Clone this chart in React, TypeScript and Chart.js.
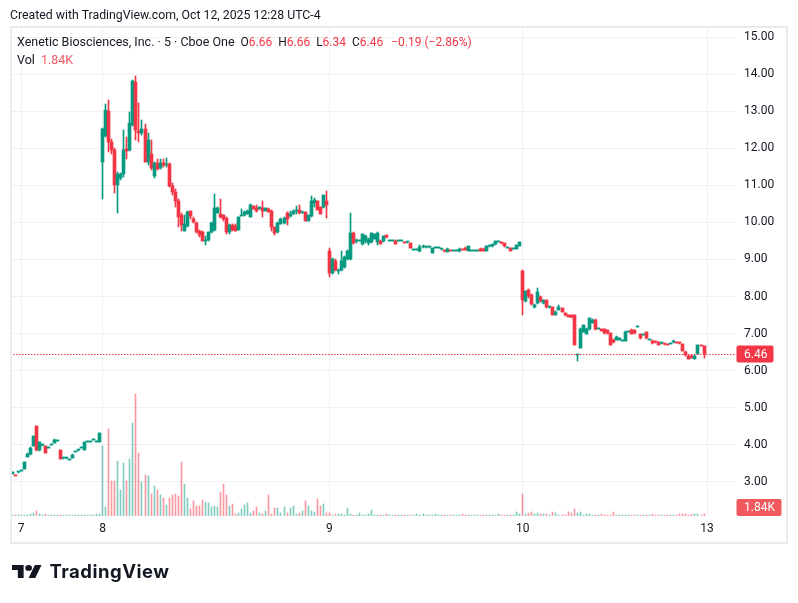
import React, { useEffect, useRef } from "react";
import { Chart, registerables } from "chart.js";

Chart.register(...registerables);

// ---------------- data ----------------
// day labels on the time axis (first bar of each session; "13" is the next, empty session)
const dayTickLabels = ["7", "8", "9", "10", "13"];

// 5-minute candles: [open, high, low, close]
const oct6Candles = [
  [3.22, 3.28, 3.21, 3.27],
  [3.17, 3.17, 3.15, 3.16],
  [3.26, 3.27, 3.25, 3.27],
];
const oct7Candles = [
  [3.3, 3.31, 3.29, 3.3], [3.36, 3.55, 3.35, 3.54], [3.68, 3.77, 3.67, 3.76], [3.74, 3.93, 3.73, 3.92],
  [3.97, 4.25, 3.96, 4.24], [4.51, 4.52, 3.84, 3.85], [3.85, 4.09, 3.84, 4.08], [3.99, 4.0, 3.98, 3.99],
  [3.97, 3.98, 3.78, 3.79], [3.92, 3.93, 3.91, 3.92], [4.0, 4.01, 3.99, 4.0], [4.06, 4.15, 4.05, 4.14],
  [4.11, 4.12, 4.1, 4.11], [3.85, 3.86, 3.61, 3.63], [3.64, 3.65, 3.63, 3.64], [3.64, 3.65, 3.63, 3.64],
  [3.59, 3.6, 3.58, 3.59], [3.65, 3.74, 3.64, 3.73], [3.81, 3.82, 3.8, 3.81], [3.85, 3.86, 3.84, 3.85],
  [3.92, 3.93, 3.91, 3.92], [3.87, 4.09, 3.86, 4.08], [4.08, 4.09, 4.07, 4.08], [4.08, 4.09, 4.07, 4.08],
  [4.14, 4.15, 4.13, 4.14], [4.08, 4.09, 4.07, 4.08], [4.08, 4.32, 4.07, 4.31],
];
const oct8Candles = [
  [11.63, 12.55, 10.64, 12.53], [12.32, 13.18, 12.3, 13.03], [13.0, 13.3, 11.9, 12.17], [12.17, 12.25, 11.85, 11.96],
  [11.96, 12.0, 10.8, 11.0], [11.0, 11.35, 10.25, 11.3], [11.21, 11.33, 11.15, 11.3], [11.31, 12.49, 11.22, 11.94],
  [11.99, 12.3, 11.7, 11.93], [11.95, 12.98, 11.93, 12.67], [12.62, 13.85, 12.6, 13.82], [13.8, 13.95, 12.22, 12.49],
  [12.47, 13.21, 12.17, 12.4], [12.4, 12.75, 12.35, 12.51], [12.53, 12.66, 11.62, 11.63], [11.63, 12.4, 11.54, 12.22],
  [11.84, 12.22, 11.41, 11.48], [11.24, 11.62, 11.2, 11.59], [11.59, 11.7, 11.4, 11.45], [11.48, 11.7, 11.45, 11.59],
  [11.59, 11.72, 11.5, 11.54], [11.54, 11.75, 11.5, 11.58], [11.58, 11.6, 10.95, 10.98], [10.98, 11.05, 10.75, 10.82],
  [10.82, 10.9, 10.41, 10.59], [10.59, 10.64, 9.87, 10.14], [10.19, 10.25, 9.78, 9.92], [9.78, 10.2, 9.76, 9.95],
  [9.9, 10.3, 9.88, 10.28], [10.3, 10.32, 10.1, 10.17], [10.1, 10.15, 9.98, 10.0], [9.98, 10.0, 9.72, 9.74],
  [9.78, 9.8, 9.6, 9.65], [9.74, 9.76, 9.5, 9.51], [9.5, 9.64, 9.38, 9.53], [9.53, 9.75, 9.5, 9.74],
  [9.74, 10.0, 9.72, 9.98], [9.8, 10.77, 9.78, 10.39], [10.26, 10.42, 10.25, 10.39], [10.23, 10.62, 10.12, 10.14],
  [10.19, 10.2, 10.05, 10.1], [10.13, 10.15, 9.68, 9.74], [9.74, 9.95, 9.7, 9.92], [9.92, 9.95, 9.78, 9.8],
  [9.9, 9.96, 9.76, 9.78], [9.8, 10.15, 9.79, 10.14], [10.17, 10.37, 10.16, 10.19], [10.19, 10.3, 10.18, 10.28],
  [10.24, 10.34, 10.22, 10.32], [10.14, 10.5, 10.14, 10.46], [10.43, 10.45, 10.36, 10.37], [10.4, 10.46, 10.28, 10.32],
  [10.37, 10.42, 10.36, 10.41], [10.39, 10.58, 10.14, 10.3], [10.32, 10.4, 10.31, 10.39], [10.37, 10.38, 10.27, 10.28],
  [10.32, 10.33, 9.78, 9.87], [9.87, 9.88, 9.65, 9.71], [9.74, 10.0, 9.72, 9.98], [9.96, 10.12, 9.95, 10.1],
  [9.98, 10.15, 9.97, 10.13], [10.26, 10.28, 9.92, 10.1], [10.16, 10.3, 10.15, 10.23], [10.23, 10.33, 10.22, 10.32],
  [10.31, 10.43, 10.23, 10.34], [10.34, 10.46, 10.23, 10.26], [10.26, 10.3, 10.25, 10.28], [10.28, 10.29, 10.04, 10.05],
  [10.05, 10.2, 10.04, 10.19], [10.16, 10.71, 10.15, 10.57], [10.52, 10.67, 10.41, 10.61], [10.57, 10.58, 10.33, 10.34],
  [10.41, 10.42, 10.22, 10.23], [10.41, 10.74, 10.4, 10.73], [10.59, 10.84, 10.13, 10.46],
];
const oct9Candles = [
  [9.24, 9.3, 8.52, 8.63], [8.63, 9.05, 8.6, 9.0], [8.97, 9.0, 8.7, 8.72], [8.68, 8.74, 8.62, 8.72],
  [8.72, 9.23, 8.7, 8.97], [8.81, 9.1, 8.78, 9.06], [9.0, 9.25, 8.98, 9.22], [9.0, 10.25, 8.98, 9.72],
  [9.72, 9.75, 9.42, 9.45], [9.49, 9.55, 9.44, 9.5], [9.5, 9.52, 9.49, 9.51], [9.42, 9.7, 9.4, 9.69],
  [9.49, 9.65, 9.45, 9.62], [9.44, 9.58, 9.4, 9.56], [9.47, 9.72, 9.45, 9.71], [9.55, 9.7, 9.54, 9.69],
  [9.47, 9.75, 9.4, 9.72], [9.51, 9.53, 9.41, 9.42], [9.49, 9.63, 9.48, 9.62], [9.65, 9.66, 9.59, 9.6],
  [9.51, 9.52, 9.5, 9.51], [9.51, 9.52, 9.5, 9.51], [9.51, 9.52, 9.41, 9.42], [9.51, 9.52, 9.5, 9.51],
  [9.51, 9.52, 9.5, 9.51], [9.47, 9.48, 9.44, 9.45], [9.46, 9.47, 9.45, 9.46], [9.44, 9.45, 9.3, 9.31],
  [9.26, 9.27, 9.25, 9.26], [9.26, 9.27, 9.25, 9.26], [9.24, 9.38, 9.2, 9.33], [9.33, 9.38, 9.32, 9.37],
  [9.33, 9.34, 9.32, 9.33], [9.33, 9.34, 9.32, 9.33], [9.18, 9.32, 9.17, 9.31], [9.31, 9.32, 9.3, 9.31],
  [9.32, 9.33, 9.31, 9.32], [9.27, 9.28, 9.26, 9.27], [9.24, 9.25, 9.21, 9.22], [9.2, 9.3, 9.19, 9.27],
  [9.23, 9.24, 9.22, 9.225], [9.225, 9.23, 9.22, 9.225], [9.225, 9.23, 9.22, 9.225], [9.22, 9.3, 9.21, 9.29],
  [9.27, 9.28, 9.25, 9.26], [9.32, 9.33, 9.25, 9.26], [9.24, 9.36, 9.23, 9.35], [9.24, 9.25, 9.23, 9.24],
  [9.24, 9.25, 9.23, 9.24], [9.24, 9.25, 9.23, 9.24], [9.29, 9.3, 9.22, 9.225], [9.29, 9.3, 9.22, 9.225],
  [9.225, 9.36, 9.22, 9.35], [9.35, 9.36, 9.34, 9.35], [9.35, 9.43, 9.34, 9.42], [9.41, 9.5, 9.4, 9.49],
  [9.48, 9.49, 9.47, 9.48], [9.46, 9.47, 9.43, 9.44], [9.44, 9.45, 9.34, 9.35], [9.31, 9.32, 9.3, 9.31],
  [9.31, 9.32, 9.23, 9.24], [9.29, 9.3, 9.28, 9.29], [9.29, 9.39, 9.28, 9.38], [9.37, 9.47, 9.36, 9.46],
];
const oct10Candles = [
  [8.7, 8.72, 7.51, 7.91], [7.87, 8.15, 7.85, 8.14], [8.19, 8.2, 7.95, 8.01], [8.05, 8.06, 7.78, 7.8],
  [7.71, 7.79, 7.7, 7.78], [7.82, 8.23, 7.8, 8.12], [8.0, 8.02, 7.86, 7.87], [7.82, 7.92, 7.81, 7.91],
  [7.91, 7.92, 7.7, 7.71], [7.71, 7.72, 7.7, 7.71], [7.71, 7.72, 7.49, 7.5], [7.5, 7.6, 7.49, 7.59],
  [7.65, 7.76, 7.64, 7.73], [7.69, 7.7, 7.57, 7.58], [7.55, 7.56, 7.48, 7.49], [7.5, 7.51, 7.45, 7.46],
  [7.49, 7.5, 7.43, 7.44], [7.49, 7.5, 6.69, 6.7], [6.43, 6.45, 6.27, 6.44], [6.61, 7.14, 6.6, 7.13],
  [7.05, 7.23, 7.04, 7.22], [7.0, 7.16, 6.98, 7.12], [7.12, 7.42, 7.11, 7.41], [7.29, 7.39, 7.28, 7.38],
  [7.38, 7.39, 7.11, 7.12], [7.13, 7.14, 7.12, 7.13], [7.12, 7.13, 7.07, 7.08], [7.12, 7.13, 7.0, 7.01],
  [7.1, 7.11, 7.0, 7.01], [7.01, 7.02, 6.68, 6.69], [6.84, 6.85, 6.76, 6.77], [6.83, 6.93, 6.82, 6.9],
  [6.84, 6.88, 6.83, 6.87], [6.81, 6.82, 6.8, 6.81], [6.81, 7.06, 6.8, 7.05], [7.05, 7.06, 7.04, 7.05],
  [7.11, 7.12, 6.98, 6.99], [7.1, 7.11, 7.0, 7.01], [7.19, 7.2, 7.18, 7.19], [6.99, 7.0, 6.86, 6.87],
  [6.96, 6.97, 6.95, 6.96], [7.04, 7.05, 6.86, 6.87], [6.84, 6.85, 6.83, 6.84], [6.81, 6.82, 6.73, 6.74],
  [6.78, 6.79, 6.76, 6.77], [6.77, 6.78, 6.68, 6.69], [6.74, 6.75, 6.73, 6.74], [6.72, 6.73, 6.7, 6.71],
  [6.7, 6.71, 6.68, 6.69], [6.72, 6.73, 6.71, 6.72], [6.77, 6.83, 6.76, 6.81], [6.76, 6.77, 6.74, 6.75],
  [6.76, 6.77, 6.73, 6.74], [6.72, 6.73, 6.53, 6.54], [6.51, 6.52, 6.41, 6.42], [6.41, 6.42, 6.31, 6.32],
  [6.41, 6.42, 6.33, 6.34], [6.32, 6.42, 6.31, 6.41], [6.45, 6.7, 6.44, 6.69], [6.68, 6.68, 6.66, 6.67],
  [6.66, 6.66, 6.34, 6.46],
];

// volume per bar, in thousands of shares
const oct6Volumes = [0.7, 0.7, 0.7];
const oct7Volumes = [
  0.7, 0.7, 0.7, 2, 3.3, 4.7, 2, 1, 1.7, 0.7, 0.7, 0.7, 0.7, 0.7, 0.7, 0.7, 0.7, 0.7, 0.7, 0.7, 0.7, 0.7, 0.7,
  0.7, 0.7, 2, 2,
];
const oct8Volumes = [
  70, 9, 87, 35, 35, 55, 26, 53, 35, 57, 93, 122, 63, 34, 41, 40, 22, 30, 26, 21, 18, 11, 18, 21, 22, 20, 54,
  32, 18, 7, 15, 10, 10, 16, 14, 13, 9, 10, 9, 24, 32, 21, 10, 12, 2, 3, 7, 11, 13, 3, 5, 9, 3, 2, 5, 21, 2, 8,
  8, 3, 9, 3, 8, 10, 2, 3, 5, 15, 10, 5, 4, 17, 10, 12, 3,
];
const oct9Volumes = [
  3, 1, 2, 2, 2, 1, 8, 2, 1, 1, 3, 1, 1, 2, 6, 1, 1, 1, 1, 2, 1, 1, 1, 1, 1, 1, 1, 1, 1, 2, 1, 2, 1, 1, 1, 2, 1,
  1, 1, 1, 1, 1, 1, 1, 2, 1, 1, 1, 1, 1, 1, 1, 1, 1, 1, 1, 2, 1, 1, 1, 1, 1, 4, 2,
];
const oct10Volumes = [
  21.7, 2, 3, 4, 2, 3, 2, 2, 2, 1, 4, 3, 1, 1, 1, 4, 3, 7, 3, 4, 1, 2, 2, 1, 1, 1, 2, 1, 1, 1, 4, 1, 1, 1, 1, 1,
  1, 1, 1, 1, 1, 1, 1, 2, 1, 1, 1, 1, 1, 1, 1, 1, 2, 2, 2, 1, 2, 2, 2, 1, 1.84,
];

const priceTicks = [3, 4, 5, 6, 7, 8, 9, 10, 11, 12, 13, 14, 15];
const lastPrice = 6.46;
const lastVolume = 1.84;

// ---------------- styling ----------------
const UP = "#089981";
const DOWN = "#f23645";
const UP_VOL = "rgba(8,153,129,0.5)";
const DOWN_VOL = "rgba(242,54,69,0.5)";
const GRID = "#eff1f4";
const TEXT = "#131722";
const FONT = "Roboto, 'Noto Sans', Arial, sans-serif";

const snapPlugin = {
  id: "snapBars",
  beforeDatasetsDraw(chart: any) {
    chart.data.datasets.forEach((_: any, di: number) => {
      const meta = chart.getDatasetMeta(di);
      meta.data.forEach((el: any) => {
        const w = Math.round(el.width);
        el.x = w % 2 === 1 ? Math.floor(el.x) + 0.5 : Math.round(el.x);
        const top = Math.round(Math.min(el.y, el.base));
        let bot = Math.round(Math.max(el.y, el.base));
        if (bot - top < 1) bot = top + 1;
        el.y = top;
        el.base = bot;
      });
    });
  },
};

const overlayPlugin = {
  id: "tvOverlay",
  afterDatasetsDraw(chart: any) {
    const { ctx, chartArea, scales } = chart;
    const y = Math.round(scales.y.getPixelForValue(lastPrice)) + 0.5;
    ctx.save();
    ctx.strokeStyle = DOWN;
    ctx.lineWidth = 1;
    ctx.setLineDash([1.5, 1.5]);
    ctx.beginPath();
    ctx.moveTo(10, y);
    ctx.lineTo(chartArea.right, y);
    ctx.stroke();
    ctx.restore();
  },
  afterDraw(chart: any) {
    const { ctx, chartArea, scales } = chart;
    ctx.save();
    // last price badge
    const py = Math.round(scales.y.getPixelForValue(lastPrice));
    ctx.fillStyle = DOWN;
    ctx.beginPath();
    ctx.roundRect(chartArea.right + 1.5, py - 8.5, 37, 17, 2);
    ctx.fill();
    ctx.fillStyle = "#ffffff";
    ctx.font = `12px ${FONT}`;
    ctx.textBaseline = "middle";
    ctx.textAlign = "left";
    ctx.fillText(lastPrice.toFixed(2), chartArea.right + 9, py + 0.5);
    // last volume badge (clamped to the pane bottom)
    let vy = scales.yv.getPixelForValue(lastVolume);
    vy = Math.min(vy, chartArea.bottom - 8.5);
    ctx.fillStyle = "#f05a5f";
    ctx.beginPath();
    ctx.roundRect(chartArea.right + 1.5, vy - 8.5, 45, 17, 2);
    ctx.fill();
    ctx.fillStyle = "#ffffff";
    ctx.fillText(lastVolume.toFixed(2) + "K", chartArea.right + 9, vy + 0.5);
    // frame
    ctx.strokeStyle = "#e9ebef";
    ctx.lineWidth = 2;
    ctx.strokeRect(11, 27, 776, 516);
    ctx.restore();
  },
};

export default function App() {
  const canvasRef = useRef<HTMLCanvasElement | null>(null);

  useEffect(() => {
    document.body.style.margin = "0";
    const candles = [...oct6Candles, ...oct7Candles, ...oct8Candles, ...oct9Candles, ...oct10Candles];
    const volumes = [...oct6Volumes, ...oct7Volumes, ...oct8Volumes, ...oct9Volumes, ...oct10Volumes];
    const dayStarts = [
      oct6Candles.length,
      oct6Candles.length + oct7Candles.length,
      oct6Candles.length + oct7Candles.length + oct8Candles.length,
      oct6Candles.length + oct7Candles.length + oct8Candles.length + oct9Candles.length,
      candles.length,
    ];
    const isUp = candles.map((c) => c[3] >= c[0]);

    const chart = new Chart(canvasRef.current as HTMLCanvasElement, {
      type: "bar",
      data: {
        datasets: [
          {
            label: "body",
            data: candles.map((c, i) => ({ x: i, y: [c[0], c[3]] })),
            backgroundColor: isUp.map((u) => (u ? UP : DOWN)),
            barThickness: 3,
            minBarLength: 1,
            grouped: false,
            order: 1,
            xAxisID: "x",
            yAxisID: "y",
          },
          {
            label: "wick",
            data: candles.map((c, i) => ({ x: i, y: [c[2], c[1]] })),
            backgroundColor: isUp.map((u) => (u ? UP : DOWN)),
            barThickness: 1,
            minBarLength: 1,
            grouped: false,
            order: 2,
            xAxisID: "x",
            yAxisID: "y",
          },
          {
            label: "volume",
            data: volumes.map((v, i) => ({ x: i, y: v })),
            backgroundColor: isUp.map((u) => (u ? UP_VOL : DOWN_VOL)),
            barThickness: 1,
            minBarLength: 1,
            grouped: false,
            order: 3,
            xAxisID: "x",
            yAxisID: "yv",
          },
        ] as any,
      },
      options: {
        animation: false,
        responsive: false,
        devicePixelRatio: 1,
        events: [],
        layout: { padding: { left: 11, top: 27, right: 10, bottom: 59 } },
        plugins: { legend: { display: false }, tooltip: { enabled: false } },
        scales: {
          x: {
            type: "linear",
            offset: false,
            min: -0.35,
            max: 239.25,
            bounds: "data",
            grid: { color: GRID, drawTicks: false, lineWidth: 1, offset: false },
            border: { display: false },
            ticks: {
              color: TEXT,
              font: { family: FONT, size: 12 },
              padding: 6,
              maxRotation: 0,
              autoSkip: false,
              callback: (_v: any, i: number) => dayTickLabels[i],
            },
            afterBuildTicks: (scale: any) => {
              scale.ticks = dayStarts.map((v) => ({ value: v }));
            },
            afterFit: (scale: any) => {
              scale.height = 28;
            },
          },
          y: {
            type: "linear",
            position: "right",
            min: 15 - 478 / 37,
            max: 15 + 10 / 37,
            bounds: "data",
            grid: { color: GRID, drawTicks: false, lineWidth: 1 },
            border: { display: false },
            ticks: {
              color: TEXT,
              font: { family: FONT, size: 12 },
              padding: 9,
              callback: (v: any) => Number(v).toFixed(2),
            },
            afterBuildTicks: (scale: any) => {
              scale.ticks = priceTicks.map((v) => ({ value: v }));
            },
            afterFit: (scale: any) => {
              scale.width = 53;
            },
          },
          yv: {
            type: "linear",
            display: false,
            min: 0,
            max: 488,
          },
        },
      } as any,
      plugins: [snapPlugin, overlayPlugin],
    });
    return () => chart.destroy();
  }, []);

  const red = { color: DOWN };
  const row = { position: "absolute" as const, fontSize: 12, lineHeight: "14px", whiteSpace: "nowrap" as const };
  return (
    <div
      style={{
        position: "absolute",
        left: 0,
        top: 0,
        width: 798,
        height: 603,
        background: "#ffffff",
        fontFamily: FONT,
        color: TEXT,
        overflow: "hidden",
      }}
    >
      <canvas
        ref={canvasRef}
        width={798}
        height={603}
        style={{ position: "absolute", left: 0, top: 0, width: 798, height: 603 }}
      />
      <div style={{ ...row, left: 10, top: 8, fontSize: 12.3 }}>
        Created with TradingView.com, Oct 12, 2025 12:28 UTC-4
      </div>
      <div style={{ ...row, left: 17, top: 35, fontSize: 12.5 }}>Xenetic Biosciences, Inc. · 5 · Cboe One</div>
      <div style={{ ...row, left: 240.5, top: 35, display: "flex", gap: 6 }}>
        <span>
          O<span style={red}>6.66</span>
        </span>
        <span>
          H<span style={red}>6.66</span>
        </span>
        <span>
          L<span style={red}>6.34</span>
        </span>
        <span>
          C<span style={red}>6.46</span>
        </span>
        <span style={{ ...red, marginLeft: 2 }}>−0.19 (−2.86%)</span>
      </div>
      <div style={{ ...row, left: 17, top: 53, fontSize: 12.5 }}>
        Vol <span style={{ color: "#f05a5f", marginLeft: 3 }}>1.84K</span>
      </div>
      <svg
        style={{ position: "absolute", left: 12, top: 565 }}
        width={29.5}
        height={13}
        viewBox="0 4 35.5 18"
        preserveAspectRatio="none"
      >
        <path d="M14 22H7V11H0V4h14v18zM28 22h-8l7.5-18h8L28 22z" fill="#131722" />
        <circle cx="20" cy="8" r="4" fill="#131722" />
      </svg>
      <div
        style={{
          position: "absolute",
          left: 49.5,
          top: 562,
          fontFamily: "Inter, Roboto, sans-serif",
          fontWeight: 700,
          fontSize: 18.5,
          lineHeight: "18px",
          letterSpacing: 0.5,
          color: "#131722",
          whiteSpace: "nowrap",
        }}
      >
        TradingView
      </div>
    </div>
  );
}
